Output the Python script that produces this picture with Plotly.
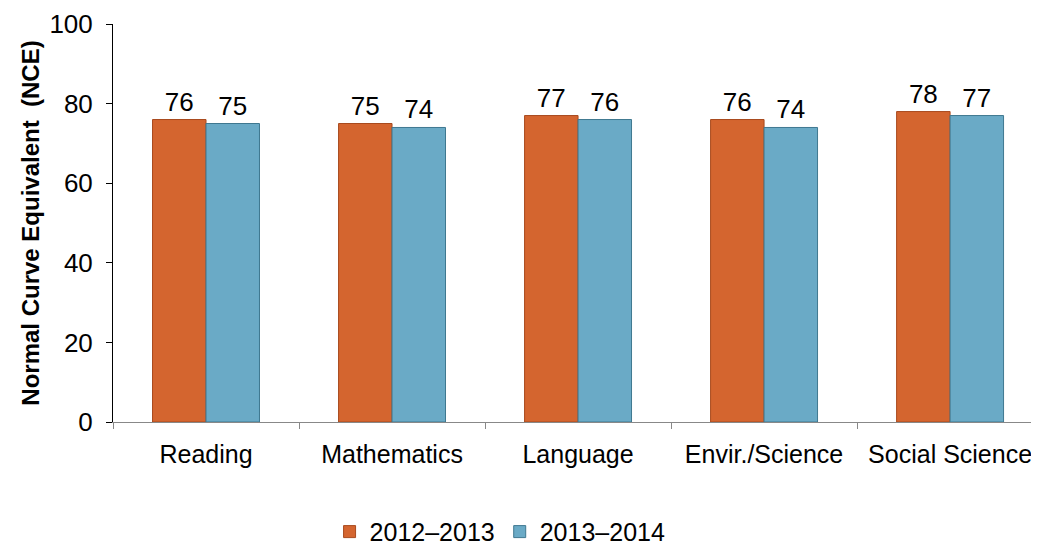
import plotly.graph_objects as go

categories = ["Reading", "Mathematics", "Language", "Envir./Science", "Social Science"]
series_2012 = [76, 75, 77, 76, 78]
series_2013 = [75, 74, 76, 74, 77]
series_names = ["2012\u20132013", "2013\u20132014"]
y_ticks = [0, 20, 40, 60, 80, 100]

FONT = "Liberation Sans, Arial, sans-serif"
FS = 26

fig = go.Figure()
fig.add_trace(go.Bar(
    x=categories, y=series_2012, name=series_names[0],
    marker=dict(color="#D4652F", line=dict(color="#A84A1E", width=1)),
    text=series_2012, texttemplate="%{text}", textposition="outside",
    textfont=dict(size=FS, color="#000000", family=FONT), cliponaxis=False,
))
fig.add_trace(go.Bar(
    x=categories, y=series_2013, name=series_names[1],
    marker=dict(color="#6AAAC6", line=dict(color="#3F7890", width=1)),
    text=series_2013, texttemplate="%{text}", textposition="outside",
    textfont=dict(size=FS, color="#000000", family=FONT), cliponaxis=False,
))

fig.update_layout(
    template="none",
    width=1031, height=538,
    margin=dict(l=105, r=0, t=16, b=124, autoexpand=False),
    paper_bgcolor="white", plot_bgcolor="white",
    font=dict(family=FONT, size=FS, color="#000000"),
    barmode="group", bargap=0.425, bargroupgap=0,
    showlegend=True,
    legend=dict(orientation="h", x=0.418, xanchor="center", y=-0.276, yanchor="middle",
                font=dict(size=25, family=FONT), traceorder="normal", bgcolor="rgba(0,0,0,0)"),
    xaxis=dict(
        range=[-0.5, 4.478], showline=True, linecolor="#888888", linewidth=1,
        ticks="outside", tickson="boundaries", ticklen=6, tickcolor="#888888",
        showgrid=False, automargin=False, tickfont=dict(size=25, family=FONT),
        ticklabelstandoff=10,
    ),
    yaxis=dict(
        range=[0, 100], tickvals=y_ticks, showline=True, linecolor="#000000", linewidth=1,
        ticks="outside", ticklen=6, tickcolor="#000000", showgrid=False, zeroline=False,
        automargin=False, tickfont=dict(size=FS, family=FONT), ticklabelstandoff=8,
        title=dict(text="<b>Normal Curve Equivalent  (NCE)</b>", font=dict(size=24, family=FONT), standoff=3),
    ),
)

fig.write_html("out.html")
